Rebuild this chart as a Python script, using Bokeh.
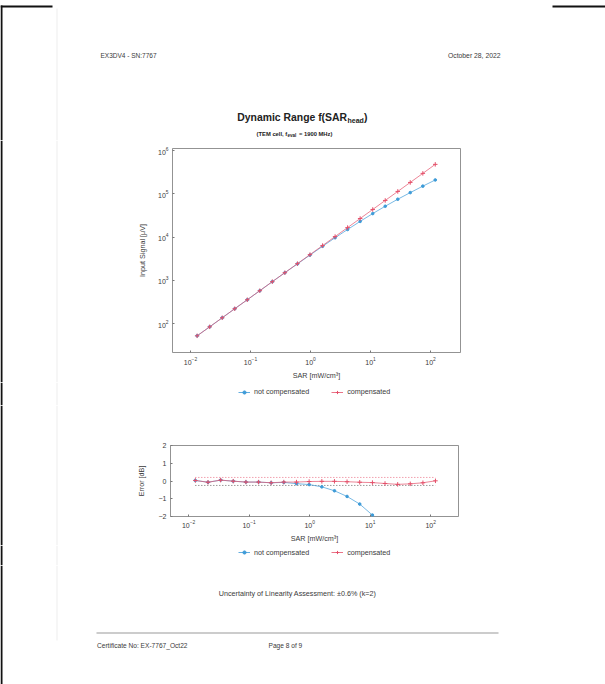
from bokeh.plotting import figure
from bokeh.models import Legend, LegendItem, FixedTicker, Range1d
from bokeh.layouts import column, row
from bokeh.core.properties import value
from bokeh.embed import file_html
from bokeh.resources import INLINE

# ---------------- data ----------------
sar = [0.0129, 0.0209, 0.0338, 0.0546, 0.0884, 0.143, 0.231, 0.374, 0.606, 0.980,
       1.59, 2.57, 4.15, 6.72, 10.9, 17.6, 28.5, 46.0, 74.5, 120.0]
signal_comp = [52, 84, 136, 220, 355, 575, 930, 1500, 2430, 3930,
               6370, 10300, 16600, 26900, 43600, 70500, 114000, 184000, 298000, 482000]
signal_not_comp = [52, 84, 136, 220, 355, 575, 930, 1500, 2400, 3840,
                   6130, 9670, 15000, 23100, 35000, 51800, 75300, 107000, 151000, 210000]
error_comp = [0.03, -0.07, 0.05, -0.01, -0.06, -0.06, -0.10, -0.06, -0.06, -0.03,
              -0.02, -0.02, -0.04, -0.07, -0.09, -0.14, -0.19, -0.16, -0.10, 0.01]
error_not_comp = [0.03, -0.07, 0.05, -0.01, -0.06, -0.06, -0.10, -0.08, -0.15, -0.20,
                  -0.33, -0.55, -0.87, -1.30, -1.92, -2.70, -3.60, -4.70, -5.90, -7.30]
limit_sar = [0.0129, 120.0]
limit_upper = [0.20, 0.20]
limit_lower = [-0.25, -0.25]
series_labels = ["not compensated", "compensated"]

x_ticks = [0.01, 0.1, 1, 10, 100]
signal_ticks = [100, 1000, 10000, 100000, 1000000]
error_ticks = [-2, -1, 0, 1, 2]
error_tick_labels = ["\u22122", "\u22121", "0", "1", "2"]

# ---------------- style ----------------
FONT = "Liberation Sans"
BLUE = "#3d9bd8"
RED = "#e4506a"
TXT = "#3a3a3a"
DARK = "#222222"
W = 605
LEFT_W = 130          # width of the left page strip next to each chart
BLUE_MARK = dict(marker="circle", size=2.6, fill_color=BLUE, line_color=BLUE)
RED_MARK = dict(marker="cross", size=4.5, line_color=RED, line_width=1)


def strip(x0, x1, y0, y1):
    """A plain page strip: frame = whole figure, coordinates = page pixels."""
    p = figure(width=x1 - x0, height=y1 - y0, x_range=Range1d(x0, x1), y_range=Range1d(y1, y0),
               title=None, output_backend="svg", toolbar_location=None,
               x_axis_location=None, y_axis_location=None, min_border=0, frame_align=False)
    p.grid.visible = False
    p.outline_line_color = None
    p.background_fill_color = "white"
    p.border_fill_color = "white"
    return p


def txt(p, x, y, s, size, align="left", style="normal", color=TXT):
    p.text(x=[x], y=[y], text=[s], text_font=value(FONT), text_font_size=value(size),
           text_font_style=style, text_color=color, text_align=align, text_baseline="middle")


def bar(p, x0, x1, y0, y1, color):
    p.quad(left=[x0], right=[x1], top=[y0], bottom=[y1], fill_color=color, line_color=None)


def page_edges(p, y0, y1, edge_end=None):
    bar(p, 0, 2, y0, y1, "#111111")
    bar(p, 56, 57, max(y0, 8), edge_end if edge_end else y1, "#eeeeee")


def chart(x0, y0, h, frame, x_rng, y_rng, y_type):
    p = figure(width=W - x0, height=h, x_axis_type="log", y_axis_type=y_type,
               x_range=x_rng, y_range=y_rng, title=None,
               output_backend="svg", toolbar_location=None, frame_align=False,
               min_border_left=frame[0] - x0, min_border_right=W - frame[1],
               min_border_top=frame[2] - y0, min_border_bottom=y0 + h - frame[3])
    p.grid.visible = False
    p.outline_line_color = "#777777"
    p.outline_line_width = 0.8
    p.background_fill_color = "white"
    p.border_fill_color = "white"
    for ax in p.axis:
        ax.axis_line_color = None
        ax.major_tick_in = 2
        ax.major_tick_out = 0
        ax.major_tick_line_color = "#777777"
        ax.minor_tick_line_color = None
        ax.major_label_text_font = FONT
        ax.major_label_text_font_size = "7px"
        ax.major_label_text_color = TXT
        ax.axis_label_text_font = FONT
        ax.axis_label_text_font_size = "7.2px"
        ax.axis_label_text_font_style = "normal"
        ax.axis_label_text_color = TXT
    return p


def legend_strip(y0, y1, cx, cy):
    """Strip under a chart holding its legend.  The legend renderers carry the error
    series, which lie far outside this strip's page-pixel ranges, so only the legend
    samples are visible."""
    s = strip(0, W, y0, y1)
    page_edges(s, y0, y1)
    bl = s.line(sar, error_not_comp, line_color=BLUE, line_width=0.8)
    bs = s.scatter(sar, error_not_comp, **BLUE_MARK)
    rl = s.line(sar, error_comp, line_color=RED, line_width=0.8)
    rs = s.scatter(sar, error_comp, **RED_MARK)
    lg = Legend(items=[LegendItem(label=series_labels[0], renderers=[bl, bs]),
                       LegendItem(label=series_labels[1], renderers=[rl, rs])],
                orientation="horizontal", location=(cx, y1 - cy - 4),
                border_line_color=None, background_fill_alpha=0, padding=0, margin=0,
                spacing=22, glyph_width=12, glyph_height=8, label_standoff=4,
                label_text_font=FONT, label_text_font_size="7.2px", label_text_color=TXT,
                label_height=8)
    s.add_layout(lg)
    return s


# ---------------- header strip (page y 0..140) ----------------
head = strip(0, W, 0, 140)
bar(head, 0, 52, 5, 7, "#111111")
bar(head, 552, W, 5, 7, "#111111")
page_edges(head, 5, 140)
txt(head, 100, 55, "EX3DV4 - SN:7767", "6.5px")
txt(head, 500, 55, "October 28, 2022", "6.8px", align="right")
txt(head, 346.5, 117, "Dynamic Range f(SAR", "10.4px", align="right", style="bold", color=DARK)
txt(head, 347, 120, "head", "7px", style="bold", color=DARK)
txt(head, 363.5, 117, ")", "10.4px", style="bold", color=DARK)
txt(head, 286.7, 133, "(TEM cell, f", "5.8px", align="right", style="bold", color=DARK)
txt(head, 287, 135, "eval", "4.5px", style="bold", color=DARK)
txt(head, 298.5, 133, " = 1900 MHz)", "5.8px", style="bold", color=DARK)

# ---------------- top chart (page y 140..382) ----------------
Y1, H1 = 140, 242
left1 = strip(0, LEFT_W, Y1, Y1 + H1)
page_edges(left1, Y1, Y1 + H1)

p1 = chart(LEFT_W, Y1, H1, (172, 460, 148, 353),
           Range1d(10 ** -2.3, 10 ** 2.5), Range1d(10 ** 1.33, 10 ** 6.05), "log")
p1.xaxis.ticker = FixedTicker(ticks=x_ticks)
p1.yaxis.ticker = FixedTicker(ticks=signal_ticks)
p1.xaxis.axis_label = "SAR [mW/cm\u00b3]"
p1.yaxis.axis_label = "Input Signal [\u03bcV]"
p1.xaxis.major_label_standoff = 4
p1.xaxis.axis_label_standoff = 3
p1.yaxis.major_label_standoff = 4
p1.yaxis.axis_label_standoff = 8

p1.line(sar, signal_not_comp, line_color=BLUE, line_width=0.7)
p1.scatter(sar, signal_not_comp, **BLUE_MARK)
p1.line(sar, signal_comp, line_color=RED, line_width=0.7)
p1.scatter(sar, signal_comp, **RED_MARK)

leg1 = legend_strip(Y1 + H1, 405, 238, 392)

# ---------------- bottom chart (page y 405..545) ----------------
Y2, H2 = 405, 140
left2 = strip(0, LEFT_W, Y2, Y2 + H2)
page_edges(left2, Y2, Y2 + H2)

p2 = chart(LEFT_W, Y2, H2, (170, 458, 445, 521),
           Range1d(10 ** -2.3, 10 ** 2.46), Range1d(-2, 2), "linear")
p2.xaxis.ticker = FixedTicker(ticks=x_ticks)
p2.yaxis.ticker = FixedTicker(ticks=error_ticks)
p2.yaxis.major_label_overrides = dict(zip(error_ticks, error_tick_labels))
p2.xaxis.axis_label = "SAR [mW/cm\u00b3]"
p2.yaxis.axis_label = "Error [dB]"
p2.xaxis.major_label_standoff = 3
p2.xaxis.axis_label_standoff = 3
p2.yaxis.major_label_standoff = 4
p2.yaxis.axis_label_standoff = 10

p2.line(limit_sar, limit_upper, line_color=RED, line_width=0.8, line_dash="1 2")
p2.line(limit_sar, limit_lower, line_color="#444444", line_width=0.8, line_dash="1 2")
p2.line(sar, error_not_comp, line_color=BLUE, line_width=0.7)
p2.scatter(sar, error_not_comp, **BLUE_MARK)
p2.line(sar, error_comp, line_color=RED, line_width=0.7)
p2.scatter(sar, error_comp, **RED_MARK)

leg2 = legend_strip(Y2 + H2, 565, 238, 552.5)

# ---------------- footer strip (page y 565..684) ----------------
foot = strip(0, W, 565, 684)
page_edges(foot, 565, 684, edge_end=640)
txt(foot, 297, 593, "Uncertainty of Linearity Assessment: \u00b10.6% (k=2)", "7.2px", align="center")
bar(foot, 96, 498, 632, 633, "#999999")
txt(foot, 96.5, 645, "Certificate No: EX-7767_Oct22", "6.6px")
txt(foot, 268, 645, "Page 8 of 9", "6.6px")

layout = column(head,
                row(left1, p1, spacing=0), leg1,
                row(left2, p2, spacing=0), leg2,
                foot, spacing=0)
open("out.html", "w").write(file_html(layout, INLINE))
